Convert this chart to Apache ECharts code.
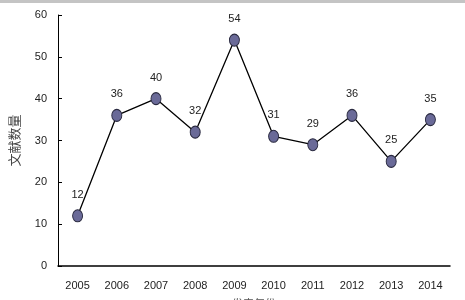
<!DOCTYPE html>
<html>
<head>
<meta charset="utf-8">
<script src="https://cdn.jsdelivr.net/npm/echarts@6/dist/echarts.min.js"></script>
<style>
html, body { margin: 0; padding: 0; background: #fff; }
#main { width: 465px; height: 300px; }
</style>
</head>
<body>
<div id="main"></div>
<script>
// 年份和文献数量
var years = ['2005', '2006', '2007', '2008', '2009', '2010', '2011', '2012', '2013', '2014'];
var counts = [12, 36, 40, 32, 54, 31, 29, 36, 25, 35];
var yTicks = [0, 60, 10];

var chart = echarts.init(document.getElementById('main'));
var option = {
	animation: false,
	textStyle: { fontFamily: 'Liberation Sans, Arial, sans-serif' },
	graphic: [{
		type: 'rect',
		shape: { x: 0, y: 0, width: 465, height: 3 },
		style: { fill: '#c4c4c4' }
	}],
	grid: { left: 58, right: 15, top: 15, bottom: 34, outerBoundsMode: 'none', containLabel: false },
	xAxis: {
		type: 'category',
		data: years,
		boundaryGap: true,
		name: '发表年份',
		nameLocation: 'middle',
		nameGap: 32,
		nameTextStyle: { color: '#555', fontSize: 11, fontFamily: 'Noto Sans CJK SC' },
		axisLine: { lineStyle: { color: '#000', width: 1.5 } },
		axisTick: { inside: true, length: 5, lineStyle: { color: '#000' } },
		axisLabel: { color: '#222', fontSize: 11, margin: 14 }
	},
	yAxis: {
		type: 'value',
		min: yTicks[0],
		max: yTicks[1],
		interval: yTicks[2],
		name: '文献数量',
		nameLocation: 'middle',
		nameGap: 37,
		nameTextStyle: { color: '#444', fontSize: 13, fontFamily: 'Noto Sans CJK SC' },
		axisLine: { show: true, lineStyle: { color: '#000', width: 1 } },
		axisTick: { show: true, inside: true, length: 4, lineStyle: { color: '#000' } },
		axisLabel: { color: '#222', fontSize: 11, margin: 11 },
		splitLine: { show: false }
	},
	series: [{
		type: 'line',
		data: counts,
		symbol: 'circle',
		symbolSize: [10, 12],
		lineStyle: { color: '#000', width: 1.3 },
		itemStyle: { color: '#6a6a98', borderColor: '#2a2a40', borderWidth: 1 },
		label: {
			show: true,
			position: 'top',
			distance: 9,
			color: '#222',
			fontSize: 11
		}
	}]
};
chart.setOption(option);
</script>
</body>
</html>
